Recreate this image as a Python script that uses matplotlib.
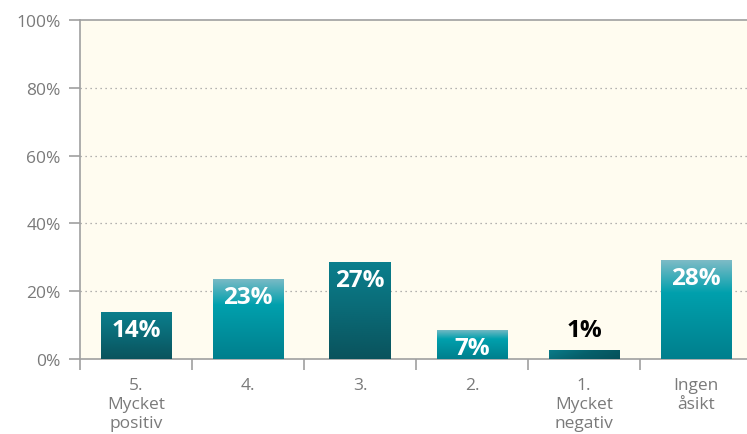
import numpy as np
import matplotlib
matplotlib.use("Agg")
import matplotlib.pyplot as plt
from matplotlib.colors import LinearSegmentedColormap

# data
categories = ["5.\nMycket\npositiv", "4.", "3.", "2.", "1.\nMycket\nnegativ", "Ingen\nåsikt"]
bar_heights = [14.0, 23.6, 28.7, 8.7, 2.7, 29.2]
value_labels = ["14%", "23%", "27%", "7%", "1%", "28%"]
y_ticks = [0, 20, 40, 60, 80, 100]

# styling
bar_widths = [0.63, 0.63, 0.55, 0.63, 0.63, 0.63]
bar_styles = ["dark", "light", "dark", "light", "diag", "light"]
label_inside = [True, True, True, True, False, True]

plt.rcParams["font.family"] = ["Open Sans", "DejaVu Sans"]

grey = "#7a7a7a"
cmaps = {
    "dark": LinearSegmentedColormap.from_list("dark", ["#0b7f8d", "#0a6a76", "#0a535d"]),
    "light": LinearSegmentedColormap.from_list(
        "light", [(0.0, "#7dbbc6"), (0.33, "#00a0ad"), (1.0, "#007f8d")]),
    "diag": LinearSegmentedColormap.from_list("diag", ["#0a7d8b", "#07606b", "#05505a"]),
}

fig = plt.figure(figsize=(7.47, 4.35), dpi=100)
ax = fig.add_axes([80 / 747, 75 / 435, 672 / 747, 339 / 435])
ax.set_facecolor("#fffcf0")

x = np.arange(len(categories))
bars = ax.bar(x, bar_heights, width=bar_widths, color="none", zorder=3)

for b, style in zip(bars, bar_styles):
    x0, y0 = b.get_x(), b.get_y()
    w, h = b.get_width(), b.get_height()
    if style == "diag":
        gx, gy = np.meshgrid(np.linspace(0, 1, 64), np.linspace(0, 1, 16))
        grad = np.clip(0.75 * gx + 0.25 * gy, 0, 1)
    else:
        grad = np.linspace(0, 1, 128).reshape(-1, 1)
    im = ax.imshow(grad, cmap=cmaps[style], aspect="auto", origin="upper",
                   extent=(x0, x0 + w, y0, y0 + h), zorder=3, vmin=0, vmax=1)
    im.set_clip_path(b)

for b, lab, inside in zip(bars, value_labels, label_inside):
    cx = b.get_x() + b.get_width() / 2
    top = b.get_height()
    if inside:
        ax.annotate(lab, (cx, top), xytext=(0, -13), textcoords="offset points",
                    ha="center", va="center", color="white", fontsize=17.5,
                    fontweight="bold", zorder=4)
    else:
        ax.annotate(lab, (cx, top), xytext=(0, 14), textcoords="offset points",
                    ha="center", va="center", color="black", fontsize=17.5,
                    fontweight="bold", zorder=4)

ax.set_xlim(-0.5, len(categories) - 0.5)
ax.set_ylim(0, 100)

ax.set_yticks(y_ticks)
ax.set_yticklabels([f"{v}%" for v in y_ticks])
for v in y_ticks[1:-1]:
    ax.axhline(v, color="#9a9a9a", linestyle=(0, (1, 3)), linewidth=0.9, zorder=1)

ax.set_xticks(x)
ax.set_xticklabels(categories, linespacing=1.25)
ax.set_xticks(np.arange(len(categories)) - 0.5, minor=True)
ax.tick_params(axis="x", which="major", length=0, pad=13, labelsize=12.5, labelcolor=grey)
ax.tick_params(axis="x", which="minor", length=8, width=1.2, color="#a0a0a0")
ax.tick_params(axis="y", length=8, width=1.2, color="#a0a0a0", labelsize=12.5,
               labelcolor=grey, pad=6)

for side in ["left", "bottom", "top"]:
    ax.spines[side].set_color("#a0a0a0")
    ax.spines[side].set_linewidth(1.2)
ax.spines["right"].set_visible(False)

fig.savefig("out.png", dpi=100)
